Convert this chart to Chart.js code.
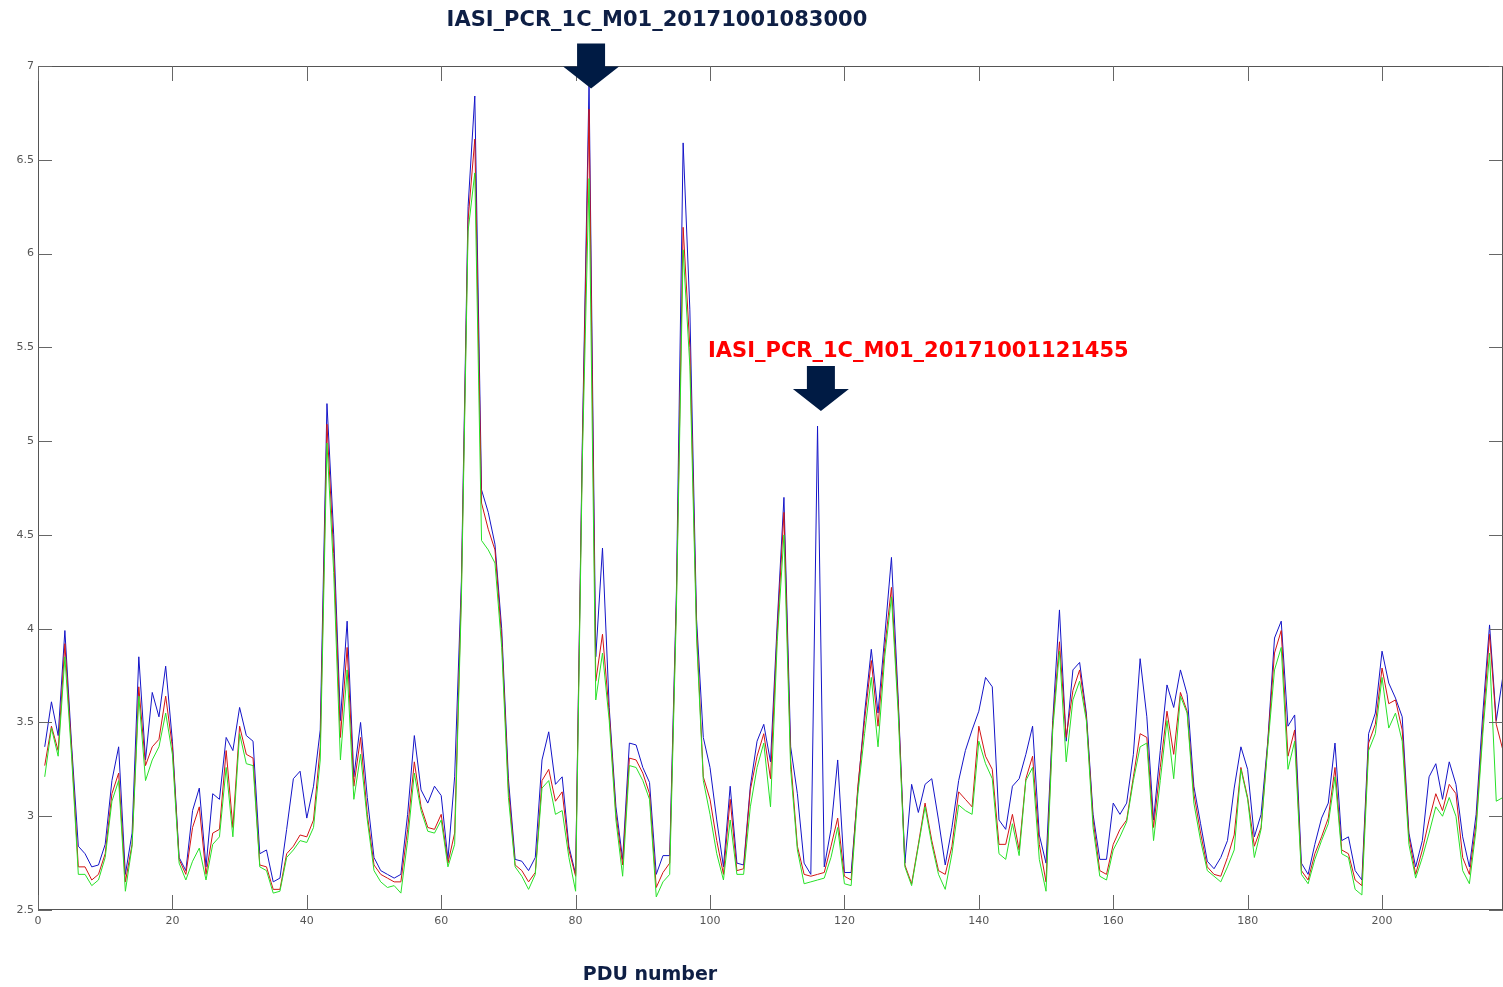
<!DOCTYPE html>
<html>
<head>
<meta charset="utf-8">
<script src="https://cdn.jsdelivr.net/npm/chart.js@4.4.1/dist/chart.umd.min.js"></script>
<style>
  html, body { margin: 0; padding: 0; background: #fff; }
  #wrap { width: 1503px; height: 987px; position: relative; }
</style>
</head>
<body>
<div id="wrap"><canvas id="pduChart"></canvas></div>
<script>
// PDU numbers 1..218 (x categories)
var pduNumbers = Array.from({ length: 218 }, function (_, i) { return i + 1; });

var seriesBlue = [
  3.37, 3.61, 3.43, 3.99, 3.38, 2.84, 2.80, 2.73, 2.74, 2.85,
  3.19, 3.37, 2.69, 2.91, 3.85, 3.30, 3.66, 3.53, 3.80, 3.40,
  2.78, 2.71, 3.03, 3.15, 2.73, 3.12, 3.09, 3.42, 3.35, 3.58,
  3.43, 3.40, 2.80, 2.82, 2.65, 2.67, 2.93, 3.20, 3.24, 2.99,
  3.16, 3.46, 5.20, 4.50, 3.51, 4.04, 3.21, 3.50, 3.10, 2.78,
  2.71, 2.69, 2.67, 2.69, 3.01, 3.43, 3.14, 3.07, 3.16, 3.11,
  2.77, 3.21, 4.25, 6.25, 6.84, 4.74, 4.62, 4.45, 4.00, 3.20,
  2.77, 2.76, 2.71, 2.78, 3.30, 3.45, 3.17, 3.21, 2.84, 2.69,
  5.00, 6.91, 3.85, 4.43, 3.58, 3.05, 2.77, 3.39, 3.38, 3.26,
  3.18, 2.69, 2.79, 2.79, 4.20, 6.59, 5.70, 4.05, 3.42, 3.26,
  2.98, 2.73, 3.16, 2.75, 2.74, 3.16, 3.40, 3.49, 3.29, 4.03,
  4.70, 3.37, 3.12, 2.75, 2.69, 5.08, 2.73, 2.93, 3.30, 2.70,
  2.70, 3.14, 3.55, 3.89, 3.55, 3.96, 4.38, 3.63, 2.75, 3.17,
  3.02, 3.17, 3.20, 2.98, 2.74, 2.94, 3.19, 3.35, 3.46, 3.56,
  3.74, 3.69, 2.98, 2.93, 3.16, 3.20, 3.33, 3.48, 2.90, 2.75,
  3.51, 4.10, 3.40, 3.78, 3.82, 3.55, 3.01, 2.77, 2.77, 3.07,
  3.01, 3.07, 3.33, 3.84, 3.53, 2.98, 3.35, 3.70, 3.58, 3.78,
  3.65, 3.16, 2.96, 2.76, 2.72, 2.78, 2.87, 3.15, 3.37, 3.25,
  2.89, 3.01, 3.40, 3.95, 4.04, 3.48, 3.54, 2.75, 2.69, 2.85,
  2.99, 3.07, 3.39, 2.87, 2.89, 2.71, 2.66, 3.44, 3.55, 3.88,
  3.71, 3.63, 3.53, 2.91, 2.73, 2.87, 3.21, 3.28, 3.09, 3.29,
  3.17, 2.89, 2.73, 3.01, 3.55, 4.02, 3.51, 3.75
];

var seriesRed = [
  3.27, 3.48, 3.35, 3.92, 3.35, 2.73, 2.73, 2.66, 2.69, 2.80,
  3.12, 3.23, 2.65, 2.85, 3.69, 3.27, 3.37, 3.41, 3.64, 3.37,
  2.77, 2.69, 2.94, 3.05, 2.69, 2.91, 2.93, 3.35, 2.94, 3.48,
  3.33, 3.31, 2.74, 2.73, 2.61, 2.61, 2.80, 2.84, 2.90, 2.89,
  2.98, 3.37, 5.09, 4.40, 3.42, 3.90, 3.16, 3.42, 3.01, 2.74,
  2.69, 2.67, 2.65, 2.65, 2.93, 3.29, 3.05, 2.94, 2.93, 3.01,
  2.75, 2.91, 4.20, 6.18, 6.61, 4.67, 4.53, 4.42, 3.95, 3.15,
  2.74, 2.71, 2.65, 2.70, 3.19, 3.25, 3.08, 3.13, 2.82, 2.68,
  4.95, 6.77, 3.72, 3.97, 3.55, 3.01, 2.74, 3.31, 3.30, 3.23,
  3.12, 2.62, 2.70, 2.75, 4.15, 6.14, 5.50, 4.00, 3.21, 3.09,
  2.87, 2.69, 3.09, 2.71, 2.72, 3.14, 3.32, 3.44, 3.20, 3.98,
  4.62, 3.30, 2.84, 2.69, 2.68, 2.69, 2.70, 2.84, 2.99, 2.68,
  2.66, 3.16, 3.51, 3.83, 3.48, 3.90, 4.22, 3.60, 2.74, 2.64,
  2.85, 3.07, 2.87, 2.71, 2.69, 2.84, 3.13, 3.09, 3.05, 3.48,
  3.32, 3.25, 2.85, 2.85, 3.01, 2.82, 3.20, 3.32, 2.85, 2.65,
  3.49, 3.93, 3.42, 3.67, 3.78, 3.53, 2.98, 2.71, 2.69, 2.85,
  2.93, 2.98, 3.21, 3.44, 3.42, 2.94, 3.26, 3.56, 3.33, 3.66,
  3.56, 3.12, 2.91, 2.73, 2.69, 2.68, 2.78, 2.90, 3.26, 3.10,
  2.84, 2.94, 3.39, 3.87, 3.99, 3.32, 3.46, 2.71, 2.66, 2.80,
  2.89, 2.99, 3.26, 2.82, 2.80, 2.66, 2.63, 3.39, 3.49, 3.79,
  3.60, 3.62, 3.46, 2.89, 2.69, 2.82, 2.98, 3.12, 3.03, 3.17,
  3.12, 2.78, 2.69, 2.96, 3.48, 3.97, 3.49, 3.35
];

var seriesGreen = [
  3.21, 3.47, 3.32, 3.85, 3.32, 2.69, 2.69, 2.63, 2.66, 2.78,
  3.08, 3.19, 2.60, 2.84, 3.64, 3.19, 3.30, 3.37, 3.55, 3.33,
  2.75, 2.66, 2.76, 2.83, 2.66, 2.85, 2.89, 3.26, 2.89, 3.44,
  3.28, 3.27, 2.73, 2.71, 2.59, 2.60, 2.78, 2.82, 2.87, 2.86,
  2.94, 3.30, 4.99, 4.30, 3.30, 3.78, 3.09, 3.33, 2.98, 2.71,
  2.65, 2.62, 2.63, 2.59, 2.87, 3.23, 3.03, 2.92, 2.91, 2.98,
  2.73, 2.85, 4.15, 6.12, 6.43, 4.47, 4.42, 4.35, 3.90, 3.10,
  2.73, 2.68, 2.61, 2.69, 3.15, 3.19, 3.01, 3.03, 2.78, 2.60,
  4.90, 6.40, 3.62, 3.87, 3.51, 2.98, 2.68, 3.27, 3.26, 3.19,
  3.09, 2.57, 2.65, 2.69, 4.10, 6.02, 5.40, 3.95, 3.19, 3.01,
  2.80, 2.66, 2.98, 2.69, 2.69, 3.05, 3.26, 3.39, 3.05, 3.93,
  4.50, 3.25, 2.82, 2.64, 2.65, 2.66, 2.67, 2.78, 2.94, 2.64,
  2.63, 3.12, 3.44, 3.74, 3.37, 3.85, 4.17, 3.55, 2.73, 2.63,
  2.84, 3.05, 2.85, 2.69, 2.61, 2.80, 3.06, 3.03, 3.01, 3.40,
  3.28, 3.20, 2.80, 2.77, 2.96, 2.79, 3.19, 3.26, 2.77, 2.60,
  3.46, 3.88, 3.29, 3.62, 3.72, 3.51, 2.94, 2.68, 2.66, 2.82,
  2.89, 2.97, 3.19, 3.37, 3.39, 2.87, 3.19, 3.51, 3.20, 3.64,
  3.55, 3.07, 2.87, 2.71, 2.68, 2.65, 2.73, 2.82, 3.25, 3.09,
  2.78, 2.93, 3.37, 3.78, 3.90, 3.25, 3.40, 2.69, 2.64, 2.77,
  2.87, 2.96, 3.21, 2.80, 2.78, 2.61, 2.58, 3.35, 3.44, 3.74,
  3.47, 3.55, 3.40, 2.85, 2.67, 2.78, 2.91, 3.05, 3.00, 3.10,
  3.00, 2.71, 2.64, 2.93, 3.44, 3.87, 3.08, 3.10
];

// axis ticks
var xTicks = [0, 20, 40, 60, 80, 100, 120, 140, 160, 180, 200];
var yTicks = [2.5, 3, 3.5, 4, 4.5, 5, 5.5, 6, 6.5, 7];

// annotations: file names pointing at two PDUs
var annotTexts = ['IASI_PCR_1C_M01_20171001083000', 'IASI_PCR_1C_M01_20171001121455'];
var annotColors = ['#0e1f45', '#ff0000'];
var annotTextX = [92.1, 131.0];
var annotTextY = [7.24, 5.48];
var arrowX = [82.3, 116.5];
var arrowTipY = [6.88, 5.16];

function toPoints(vals) {
  return pduNumbers.map(function (p, i) { return { x: p, y: vals[i] }; });
}

var frameAndNotes = {
  id: 'frameAndNotes',
  afterDraw: function (chart) {
    var ctx = chart.ctx;
    var a = chart.chartArea;
    var xs = chart.scales.x, ys = chart.scales.y;
    ctx.save();

    // axes box
    ctx.strokeStyle = '#555';
    ctx.lineWidth = 1;
    ctx.strokeRect(a.left + 0.5, a.top + 0.5, a.right - a.left - 1, a.bottom - a.top - 1);

    // inward ticks on all four sides
    ctx.strokeStyle = '#666';
    ctx.beginPath();
    xTicks.forEach(function (t) {
      var px = Math.round(xs.getPixelForValue(t)) + 0.5;
      ctx.moveTo(px, a.bottom); ctx.lineTo(px, a.bottom - 15);
      ctx.moveTo(px, a.top); ctx.lineTo(px, a.top + 15);
    });
    yTicks.forEach(function (t) {
      var py = Math.round(ys.getPixelForValue(t)) + 0.5;
      ctx.moveTo(a.left, py); ctx.lineTo(a.left + 14, py);
      ctx.moveTo(a.right, py); ctx.lineTo(a.right - 14, py);
    });
    ctx.stroke();

    // arrows
    ctx.fillStyle = '#001b44';
    arrowX.forEach(function (v, i) {
      var cx = xs.getPixelForValue(v);
      var tip = ys.getPixelForValue(arrowTipY[i]);
      ctx.beginPath();
      ctx.moveTo(cx - 14, tip - 45);
      ctx.lineTo(cx + 14, tip - 45);
      ctx.lineTo(cx + 14, tip - 22);
      ctx.lineTo(cx + 28, tip - 22);
      ctx.lineTo(cx, tip);
      ctx.lineTo(cx - 28, tip - 22);
      ctx.lineTo(cx - 14, tip - 22);
      ctx.closePath();
      ctx.fill();
    });

    // file name labels
    ctx.font = 'bold 21px "DejaVu Sans", Verdana, sans-serif';
    ctx.textAlign = 'center';
    ctx.textBaseline = 'middle';
    annotTexts.forEach(function (t, i) {
      ctx.fillStyle = annotColors[i];
      ctx.fillText(t, xs.getPixelForValue(annotTextX[i]), ys.getPixelForValue(annotTextY[i]));
    });

    // x axis title
    ctx.font = 'bold 19px "DejaVu Sans", Verdana, sans-serif';
    ctx.fillStyle = '#0e1f45';
    ctx.fillText('PDU number', 650, 975);
    ctx.restore();
  }
};

new Chart(document.getElementById('pduChart'), {
  type: 'line',
  data: {
    datasets: [
      { label: 'blue', data: toPoints(seriesBlue), borderColor: 'rgb(20,20,200)', order: 3 },
      { label: 'red', data: toPoints(seriesRed), borderColor: 'rgb(210,20,20)', order: 2 },
      { label: 'green', data: toPoints(seriesGreen), borderColor: 'rgb(40,225,40)', order: 1 }
    ]
  },
  options: {
    responsive: true,
    maintainAspectRatio: false,
    animation: false,
    elements: {
      line: { borderWidth: 1, tension: 0, fill: false },
      point: { radius: 0 }
    },
    layout: { padding: { top: 66, right: 0, left: 0, bottom: 0 } },
    plugins: {
      legend: { display: false },
      tooltip: { enabled: false }
    },
    scales: {
      x: {
        type: 'linear',
        min: 0,
        max: 218,
        afterFit: function (s) { s.height = 77; },
        grid: { display: false, drawTicks: false },
        border: { display: false },
        ticks: {
          stepSize: 20,
          includeBounds: false,
          autoSkip: false,
          maxRotation: 0,
          padding: 5,
          color: '#555',
          font: { family: '"DejaVu Sans", sans-serif', size: 11 }
        }
      },
      y: {
        min: 2.5,
        max: 7,
        afterFit: function (s) { s.width = 38; },
        grid: { display: false, drawTicks: false },
        border: { display: false },
        ticks: {
          stepSize: 0.5,
          padding: 4,
          color: '#555',
          font: { family: '"DejaVu Sans", sans-serif', size: 11 },
          callback: function (v) { return String(v); }
        }
      }
    }
  },
  plugins: [frameAndNotes]
});
</script>
</body>
</html>
